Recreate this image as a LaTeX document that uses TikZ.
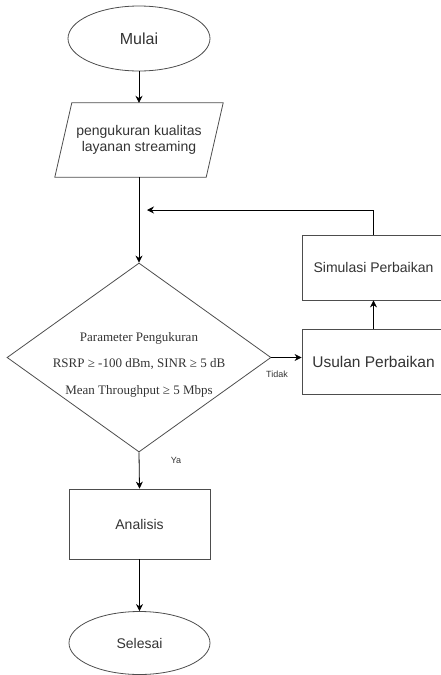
\documentclass[tikz,border=0pt]{standalone}
\usepackage{fontspec}
\setmainfont{Liberation Sans}
\newfontfamily\tnr{Liberation Serif}
\usetikzlibrary{shapes.geometric,arrows.meta}
\definecolor{ink}{HTML}{333333}
\definecolor{edge}{HTML}{4D4D4D}
\tikzset{
  base/.style={draw=edge, line width=0.8pt, text=ink, inner sep=0pt, align=center},
  term/.style={base, ellipse, font=\fontsize{14}{16}\selectfont},
  procbox/.style={base, rectangle, font=\fontsize{14}{16}\selectfont},
  iobox/.style={text=ink, inner sep=0pt, align=center, rectangle, font=\fontsize{14}{16}\selectfont},
  decbox/.style={base, diamond},
  conn/.style={draw=black, line width=0.8pt, -{Stealth[length=7pt,width=7pt]}},
  lbl/.style={text=ink, font=\fontsize{9}{10}\selectfont, inner sep=0pt}
}
\begin{document}
\begin{tikzpicture}[x=1pt,y=-1pt]
\useasboundingbox (0,0) rectangle (441,675);
\clip (0,0) rectangle (441,675);
\node[term, minimum width=142pt, minimum height=65pt, font=\fontsize{16}{18}\selectfont] (mulai) at (139,38.5) {Mulai};
\node[iobox, minimum width=151pt, minimum height=74pt] (inp) at (139,140) {pengukuran kualitas\\layanan streaming};
\draw[draw=edge, line width=0.8pt] ([xshift=-8.5pt]inp.south west) -- ([xshift=8.5pt]inp.north west) -- ([xshift=8.5pt]inp.north east) -- ([xshift=-8.5pt]inp.south east) -- cycle;
\node[decbox, minimum width=264pt, minimum height=189pt] (dec) at (139,357.5) {};
\node[text=ink, align=center, inner sep=0pt, font=\tnr\fontsize{13}{26.5}\selectfont] (dtext) at (139,364.5) {Parameter Pengukuran\\RSRP ≥ -100 dBm, SINR ≥ 5 dB\\Mean Throughput ≥ 5 Mbps};
\node[procbox, minimum width=143pt, minimum height=65pt] (sim) at (373.5,267.5) {Simulasi Perbaikan};
\node[procbox, minimum width=143pt, minimum height=65pt, font=\fontsize{15.5}{17}\selectfont] (usul) at (373.5,361.5) {Usulan Perbaikan};
\node[procbox, minimum width=141pt, minimum height=70pt] (anal) at (139.5,524) {Analisis};
\node[term, minimum width=141pt, minimum height=63pt] (sel) at (139.5,643) {Selesai};
\coordinate (loopend) at (147,210);
\draw[conn] (mulai) -- (inp);
\draw[conn] (inp.south) -- (dec.north);
\draw[conn] (dec.east) -- (dec.east -| usul.west);
\draw[conn] (usul.north) -- (sim.south);
\draw[conn] (sim.north) |- (loopend);
\draw[conn] (dec.south) -- (anal.north);
\draw[conn] (anal) -- (sel);
\node[lbl] (tidak) at (277,374) {Tidak};
\node[lbl] (ya) at (176,460) {Ya};
\end{tikzpicture}
\end{document}
